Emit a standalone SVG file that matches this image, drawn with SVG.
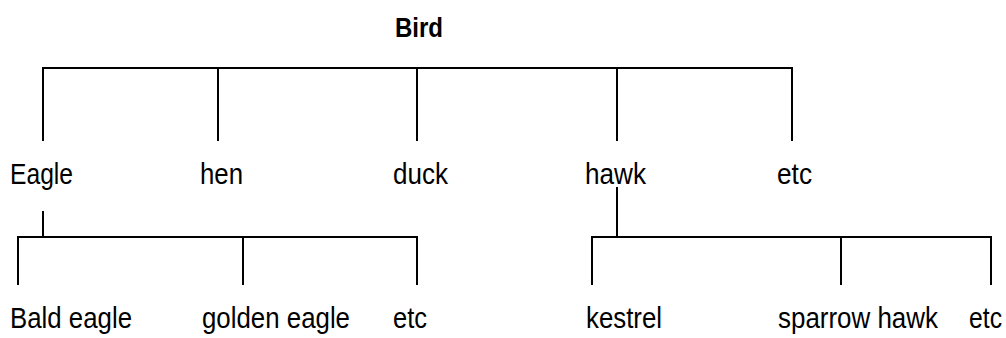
<svg xmlns="http://www.w3.org/2000/svg" width="1006" height="338" viewBox="0 0 1006 338">
<style>
.t{font-family:"Liberation Sans",Arial,sans-serif;font-size:29px;fill:#000}
.b{font-weight:bold;font-size:28px}
.c{stroke:#000;stroke-width:2;fill:none;stroke-linecap:square}
</style>
<rect width="1006" height="338" fill="#fff"/>
<g id="connectors" class="c">
<path d="M43,140 V68 H792 V140 M218,68 V140 M417,68 V140 M617,68 V140"/>
<path d="M43,212 V237 M18,284 V237 H417 V284 M243,237 V284"/>
<path d="M617,188 V237 M592,284 V237 H991 V284 M841,237 V284"/>
</g>
<g id="bird"><text class="t b" x="395" y="37" textLength="48" lengthAdjust="spacingAndGlyphs">Bird</text></g>
<g id="eagle"><text class="t" x="10" y="184" textLength="63" lengthAdjust="spacingAndGlyphs">Eagle</text></g>
<g id="hen"><text class="t" x="200" y="184" textLength="43" lengthAdjust="spacingAndGlyphs">hen</text></g>
<g id="duck"><text class="t" x="393" y="184" textLength="55" lengthAdjust="spacingAndGlyphs">duck</text></g>
<g id="hawk"><text class="t" x="585" y="184" textLength="61" lengthAdjust="spacingAndGlyphs">hawk</text></g>
<g id="etc1"><text class="t" x="777" y="184" textLength="35" lengthAdjust="spacingAndGlyphs">etc</text></g>
<g id="bald-eagle"><text class="t" x="10" y="328" textLength="122" lengthAdjust="spacingAndGlyphs">Bald eagle</text></g>
<g id="golden-eagle"><text class="t" x="202" y="328" textLength="148" lengthAdjust="spacingAndGlyphs">golden eagle</text></g>
<g id="etc2"><text class="t" x="393" y="328" textLength="34" lengthAdjust="spacingAndGlyphs">etc</text></g>
<g id="kestrel"><text class="t" x="586" y="328" textLength="76" lengthAdjust="spacingAndGlyphs">kestrel</text></g>
<g id="sparrow-hawk"><text class="t" x="778" y="328" textLength="160" lengthAdjust="spacingAndGlyphs">sparrow hawk</text></g>
<g id="etc3"><text class="t" x="969" y="328" textLength="33" lengthAdjust="spacingAndGlyphs">etc</text></g>
</svg>
